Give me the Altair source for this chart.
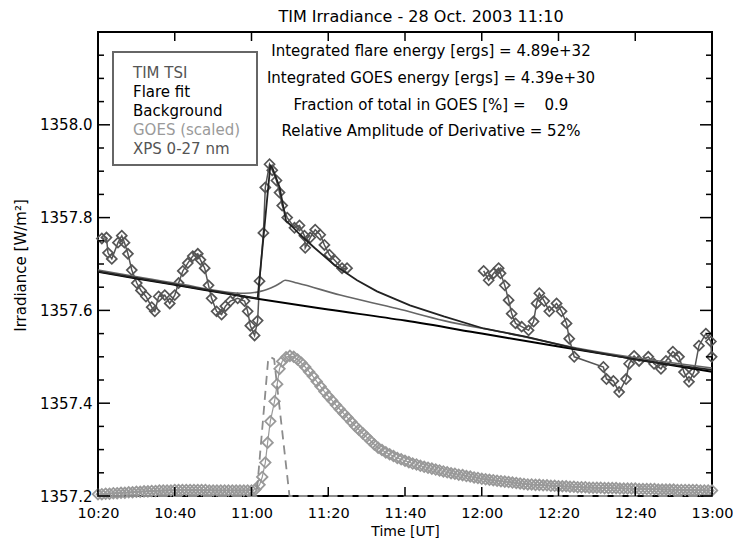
import altair as alt
import pandas as pd

# ---------------- data (times in minutes after 10:00 UT) ----------------
tsi_seg1_time = [21.0, 22.2, 22.6, 23.6, 25.2, 26.2, 26.9, 27.8, 28.8, 30.1, 31.2, 32.5, 34.0, 34.8,
                 35.8, 37.4, 38.7, 40.0, 41.0, 42.1, 43.4, 44.7, 46.0, 46.7, 47.8, 48.8, 49.6, 50.9,
                 52.2, 53.2, 54.5, 56.4, 58.2, 59.0, 59.7, 60.8, 61.6, 62.1, 63.1, 63.6, 64.7, 65.4,
                 66.5, 67.3, 68.0, 69.3, 71.2, 72.5, 73.8, 74.0, 75.3, 76.6, 77.9, 79.0, 80.3, 81.8,
                 83.6, 84.9]
tsi_seg1_value = [1357.755, 1357.757, 1357.724, 1357.711, 1357.746, 1357.761, 1357.746, 1357.722,
                  1357.687, 1357.659, 1357.643, 1357.630, 1357.607, 1357.598, 1357.630, 1357.633,
                  1357.615, 1357.633, 1357.659, 1357.685, 1357.702, 1357.717, 1357.722, 1357.709,
                  1357.691, 1357.654, 1357.626, 1357.598, 1357.591, 1357.609, 1357.620, 1357.626,
                  1357.620, 1357.598, 1357.567, 1357.546, 1357.578, 1357.663, 1357.767, 1357.865,
                  1357.915, 1357.902, 1357.880, 1357.854, 1357.826, 1357.800, 1357.778, 1357.783,
                  1357.761, 1357.735, 1357.757, 1357.774, 1357.763, 1357.741, 1357.720, 1357.707,
                  1357.691, 1357.691]
tsi_seg2_time = [120.5, 121.8, 123.1, 124.4, 124.9, 126.0, 127.0, 127.8, 128.8, 130.4, 132.2, 133.5,
                 134.3, 135.0, 136.3, 137.6, 139.5, 140.8, 142.1, 142.8, 144.1, 151.7, 152.5, 154.3,
                 155.8, 157.6, 158.4, 159.7, 161.0, 163.4, 164.9, 166.7, 168.0, 169.8, 171.4, 172.7,
                 174.0, 175.3, 176.6, 178.4, 179.7, 179.9]
tsi_seg2_value = [1357.685, 1357.665, 1357.680, 1357.691, 1357.680, 1357.654, 1357.622, 1357.593,
                  1357.572, 1357.565, 1357.557, 1357.576, 1357.615, 1357.637, 1357.620, 1357.598,
                  1357.615, 1357.598, 1357.572, 1357.539, 1357.500, 1357.478, 1357.452, 1357.448,
                  1357.424, 1357.452, 1357.485, 1357.502, 1357.491, 1357.500, 1357.485, 1357.474,
                  1357.491, 1357.511, 1357.500, 1357.467, 1357.446, 1357.467, 1357.524, 1357.550,
                  1357.533, 1357.500]

background_time = [20, 40, 60, 80, 100, 120, 140, 160, 180]
background_value = [1357.683, 1357.655, 1357.627, 1357.602, 1357.578, 1357.550, 1357.522,
                    1357.495, 1357.468]

flare_fit_time = [20, 40, 60, 61.6, 64.9, 65.5, 67.3, 69.0, 70.3, 72.7, 76.4, 81.6, 87.5, 92.7,
                  101.3, 110.1, 120.5, 131.7, 144.7, 162.1, 180]
flare_fit_value = [1357.684, 1357.656, 1357.628, 1357.626, 1357.912, 1357.906, 1357.866,
                   1357.793, 1357.783, 1357.763, 1357.735, 1357.698, 1357.665, 1357.641,
                   1357.611, 1357.587, 1357.561, 1357.543, 1357.517, 1357.491, 1357.472]

goes_fit_time = [20, 40, 58.2, 62.3, 64.0, 66.0, 67.5, 68.8, 71.9, 83.1, 97.9, 110.1, 127.3,
                 144.7, 180]
goes_fit_value = [1357.687, 1357.659, 1357.637, 1357.641, 1357.645, 1357.652, 1357.659,
                  1357.665, 1357.659, 1357.633, 1357.604, 1357.578, 1357.550, 1357.519, 1357.476]

goes_time = list(range(20, 62)) + [62.1, 62.8, 63.6, 64.2, 64.9, 66.0, 66.7, 67.3, 68.0, 69.0] + list(range(70, 181))
goes_value = [
    1357.204, 1357.204, 1357.205, 1357.205, 1357.206, 1357.206, 1357.207, 1357.207, 1357.208, 1357.208,
    1357.209, 1357.209, 1357.210, 1357.210, 1357.211, 1357.211, 1357.212, 1357.212, 1357.212, 1357.212,
    1357.213, 1357.213, 1357.213, 1357.213, 1357.213, 1357.213, 1357.213, 1357.213, 1357.213, 1357.212,
    1357.212, 1357.212, 1357.212, 1357.212, 1357.212, 1357.212, 1357.212, 1357.212, 1357.212, 1357.212,
    1357.212, 1357.214,
    1357.224, 1357.241, 1357.272, 1357.315, 1357.361, 1357.404, 1357.441, 1357.474, 1357.490, 1357.499,
    1357.502, 1357.500, 1357.494, 1357.487, 1357.478, 1357.468, 1357.458, 1357.447, 1357.436, 1357.425,
    1357.415, 1357.406, 1357.396, 1357.387, 1357.378, 1357.369, 1357.360, 1357.351, 1357.343, 1357.335,
    1357.327, 1357.319, 1357.311, 1357.304, 1357.299, 1357.294, 1357.290, 1357.286, 1357.282, 1357.279,
    1357.276, 1357.273, 1357.270, 1357.268, 1357.265, 1357.263, 1357.261, 1357.259, 1357.257, 1357.255,
    1357.253, 1357.251, 1357.249, 1357.248, 1357.246, 1357.245, 1357.243, 1357.242, 1357.240, 1357.239,
    1357.237, 1357.236, 1357.235, 1357.234, 1357.233, 1357.232, 1357.231, 1357.230, 1357.229, 1357.228,
    1357.227, 1357.226, 1357.225, 1357.225, 1357.224, 1357.224, 1357.223, 1357.223, 1357.222, 1357.222,
    1357.221, 1357.221, 1357.221, 1357.220, 1357.220, 1357.219, 1357.219, 1357.219, 1357.218, 1357.218,
    1357.218, 1357.218, 1357.217, 1357.217, 1357.217, 1357.217, 1357.216, 1357.216, 1357.216, 1357.216,
    1357.216, 1357.215, 1357.215, 1357.215, 1357.215, 1357.215, 1357.214, 1357.214, 1357.214, 1357.214,
    1357.214, 1357.213, 1357.213, 1357.213, 1357.213, 1357.213, 1357.213, 1357.212, 1357.212, 1357.212,
    1357.212,
]

xps_time = [20, 61.3, 62.8, 64.3, 64.9, 65.9, 66.5, 69.9, 180]
xps_value = [1357.2, 1357.2, 1357.345, 1357.490, 1357.500, 1357.495, 1357.450, 1357.2, 1357.2]

x_major_ticks = [20, 40, 60, 80, 100, 120, 140, 160, 180]
y_label_ticks = [1357.2, 1357.4, 1357.6, 1357.8, 1358.0]
y_major_ticks = [1357.2, 1357.4, 1357.6, 1357.8, 1358.0, 1358.2]
y_minor_ticks = [1357.25, 1357.3, 1357.35, 1357.45, 1357.5, 1357.55, 1357.65, 1357.7, 1357.75,
                 1357.85, 1357.9, 1357.95, 1358.05, 1358.1, 1358.15]

title_text = "TIM Irradiance - 28 Oct. 2003 11:10"
legend_labels = ["TIM TSI", "Flare fit", "Background", "GOES (scaled)", "XPS 0-27 nm"]
legend_colors = ["#555555", "#000000", "#000000", "#9a9a9a", "#555555"]
annotation_lines = [
    "Integrated flare energy [ergs] = 4.89e+32",
    "Integrated GOES energy [ergs] = 4.39e+30",
    "Fraction of total in GOES [%] =\u00a0\u00a0\u00a0\u00a00.9",
    "Relative Amplitude of Derivative = 52%",
]

# ---------------- chart ----------------
W, H = 614, 464
LEFT = 90
FONT = "DejaVu Sans"
xs = alt.Scale(domain=[20, 180], nice=False, zero=False)
ys = alt.Scale(domain=[1357.2, 1358.2], nice=False, zero=False)

label_expr = ("(10 + floor(datum.value / 60)) + ':' + (datum.value % 60 < 10 ? '0' : '') + "
              "(datum.value % 60)")
x_axis = alt.Axis(values=x_major_ticks, labelExpr=label_expr, ticks=False, domain=False, grid=False,
                  labelFlush=False, labelOverlap=False, labelBound=False,
                  labelFont=FONT, labelFontSize=14.5, labelColor="black", labelPadding=10,
                  title="Time [UT]", titleFont=FONT, titleFontSize=14, titleFontWeight="normal",
                  titleColor="black", titleY=39, titleBaseline="alphabetic")
y_axis = alt.Axis(values=y_label_ticks, format=".1f", ticks=False, domain=False, grid=False,
                  labelFlush=False, labelOverlap=False, labelBound=False,
                  labelFont=FONT, labelFontSize=15, labelColor="black", labelPadding=6,
                  title="Irradiance [W/m²]", titleFont=FONT, titleFontSize=15,
                  titleFontWeight="normal", titleColor="black", titleX=-78, titleY=233,
                  titleAngle=270, titleBaseline="middle", titleAlign="center")


def xenc():
    return alt.X("t:Q", scale=xs, axis=x_axis)


def yenc():
    return alt.Y("v:Q", scale=ys, axis=y_axis)


goes_df = pd.DataFrame({"t": goes_time, "v": goes_value})
goes_line = alt.Chart(goes_df).mark_line(color="#999999", strokeWidth=1.2).encode(
    x=xenc(), y=yenc())
goes_pts = alt.Chart(goes_df).mark_point(shape="diamond", size=110, filled=False, color="#999999",
                                         strokeWidth=1.8, opacity=1).encode(x=xenc(), y=yenc())

xps_df = pd.DataFrame({"t": xps_time, "v": xps_value})
xps_line = alt.Chart(xps_df).mark_line(color="#8c8c8c", strokeWidth=1.8, strokeDash=[9, 6]).encode(
    x=xenc(), y=yenc())

tsi_df = pd.DataFrame({
    "t": tsi_seg1_time + tsi_seg2_time,
    "v": tsi_seg1_value + tsi_seg2_value,
    "seg": ["a"] * len(tsi_seg1_time) + ["b"] * len(tsi_seg2_time),
})
tsi_line = alt.Chart(tsi_df).mark_line(color="#555555", strokeWidth=1.5).encode(
    x=xenc(), y=yenc(), detail="seg:N")
tsi_pts = alt.Chart(tsi_df).mark_point(shape="diamond", size=100, filled=False, color="#555555",
                                       strokeWidth=1.7, opacity=1).encode(x=xenc(), y=yenc())

bg_df = pd.DataFrame({"t": background_time, "v": background_value})
bg_line = alt.Chart(bg_df).mark_line(color="#000000", strokeWidth=2, interpolate="monotone").encode(
    x=xenc(), y=yenc())

gf_df = pd.DataFrame({"t": goes_fit_time, "v": goes_fit_value})
gf_line = alt.Chart(gf_df).mark_line(color="#666666", strokeWidth=1.6, interpolate="monotone").encode(
    x=xenc(), y=yenc())

ff_df = pd.DataFrame({"t": flare_fit_time, "v": flare_fit_value})
ff_line = alt.Chart(ff_df).mark_line(color="#222222", strokeWidth=1.8).encode(x=xenc(), y=yenc())

# inward ticks
ymaj = pd.DataFrame({"v": y_major_ticks})
ymin = pd.DataFrame({"v": y_minor_ticks})
xmaj = pd.DataFrame({"t": x_major_ticks})
tick_layers = [
    alt.Chart(ymaj).mark_rule(color="black", strokeWidth=1.5).encode(y=yenc(), x=alt.value(0), x2=alt.value(12)),
    alt.Chart(ymaj).mark_rule(color="black", strokeWidth=1.5).encode(y=yenc(), x=alt.value(W - 12), x2=alt.value(W)),
    alt.Chart(ymin).mark_rule(color="black", strokeWidth=1.5).encode(y=yenc(), x=alt.value(0), x2=alt.value(6)),
    alt.Chart(ymin).mark_rule(color="black", strokeWidth=1.5).encode(y=yenc(), x=alt.value(W - 6), x2=alt.value(W)),
    alt.Chart(xmaj).mark_rule(color="black", strokeWidth=1.5).encode(x=xenc(), y=alt.value(H - 9), y2=alt.value(H)),
    alt.Chart(xmaj).mark_rule(color="black", strokeWidth=1.5).encode(x=xenc(), y=alt.value(0), y2=alt.value(9)),
]

one = pd.DataFrame({"a": [0]})
legend_box = alt.Chart(one).mark_rect(fill="white", stroke="#666666", strokeWidth=2).encode(
    x=alt.value(15), x2=alt.value(159), y=alt.value(20), y2=alt.value(133))
legend_texts = [
    alt.Chart(one).mark_text(text=lab, color=col, font=FONT, fontSize=15, align="left",
                             baseline="middle").encode(x=alt.value(35), y=alt.value(41 + 19 * i))
    for i, (lab, col) in enumerate(zip(legend_labels, legend_colors))
]
annot_texts = [
    alt.Chart(one).mark_text(text=line, color="black", font=FONT, fontSize=15, align="center",
                             baseline="middle").encode(x=alt.value(333), y=alt.value(19 + 26.8 * i))
    for i, line in enumerate(annotation_lines)
]
title_mark = alt.Chart(one).mark_text(text=title_text, color="black", font=FONT, fontSize=16,
                                      align="center", baseline="middle").encode(
    x=alt.value(323), y=alt.value(-15))

chart = alt.layer(
    goes_line, goes_pts, xps_line, tsi_line, tsi_pts, bg_line, gf_line, ff_line,
    *tick_layers, legend_box, *legend_texts, *annot_texts, title_mark,
).properties(
    width=W, height=H,
    autosize=alt.AutoSizeParams(type="none"),
    padding={"left": LEFT, "top": 24, "right": 21, "bottom": 42},
).configure_view(stroke="black", strokeWidth=2)

chart.save("out.html", embed_options={"renderer": "svg", "actions": False})
